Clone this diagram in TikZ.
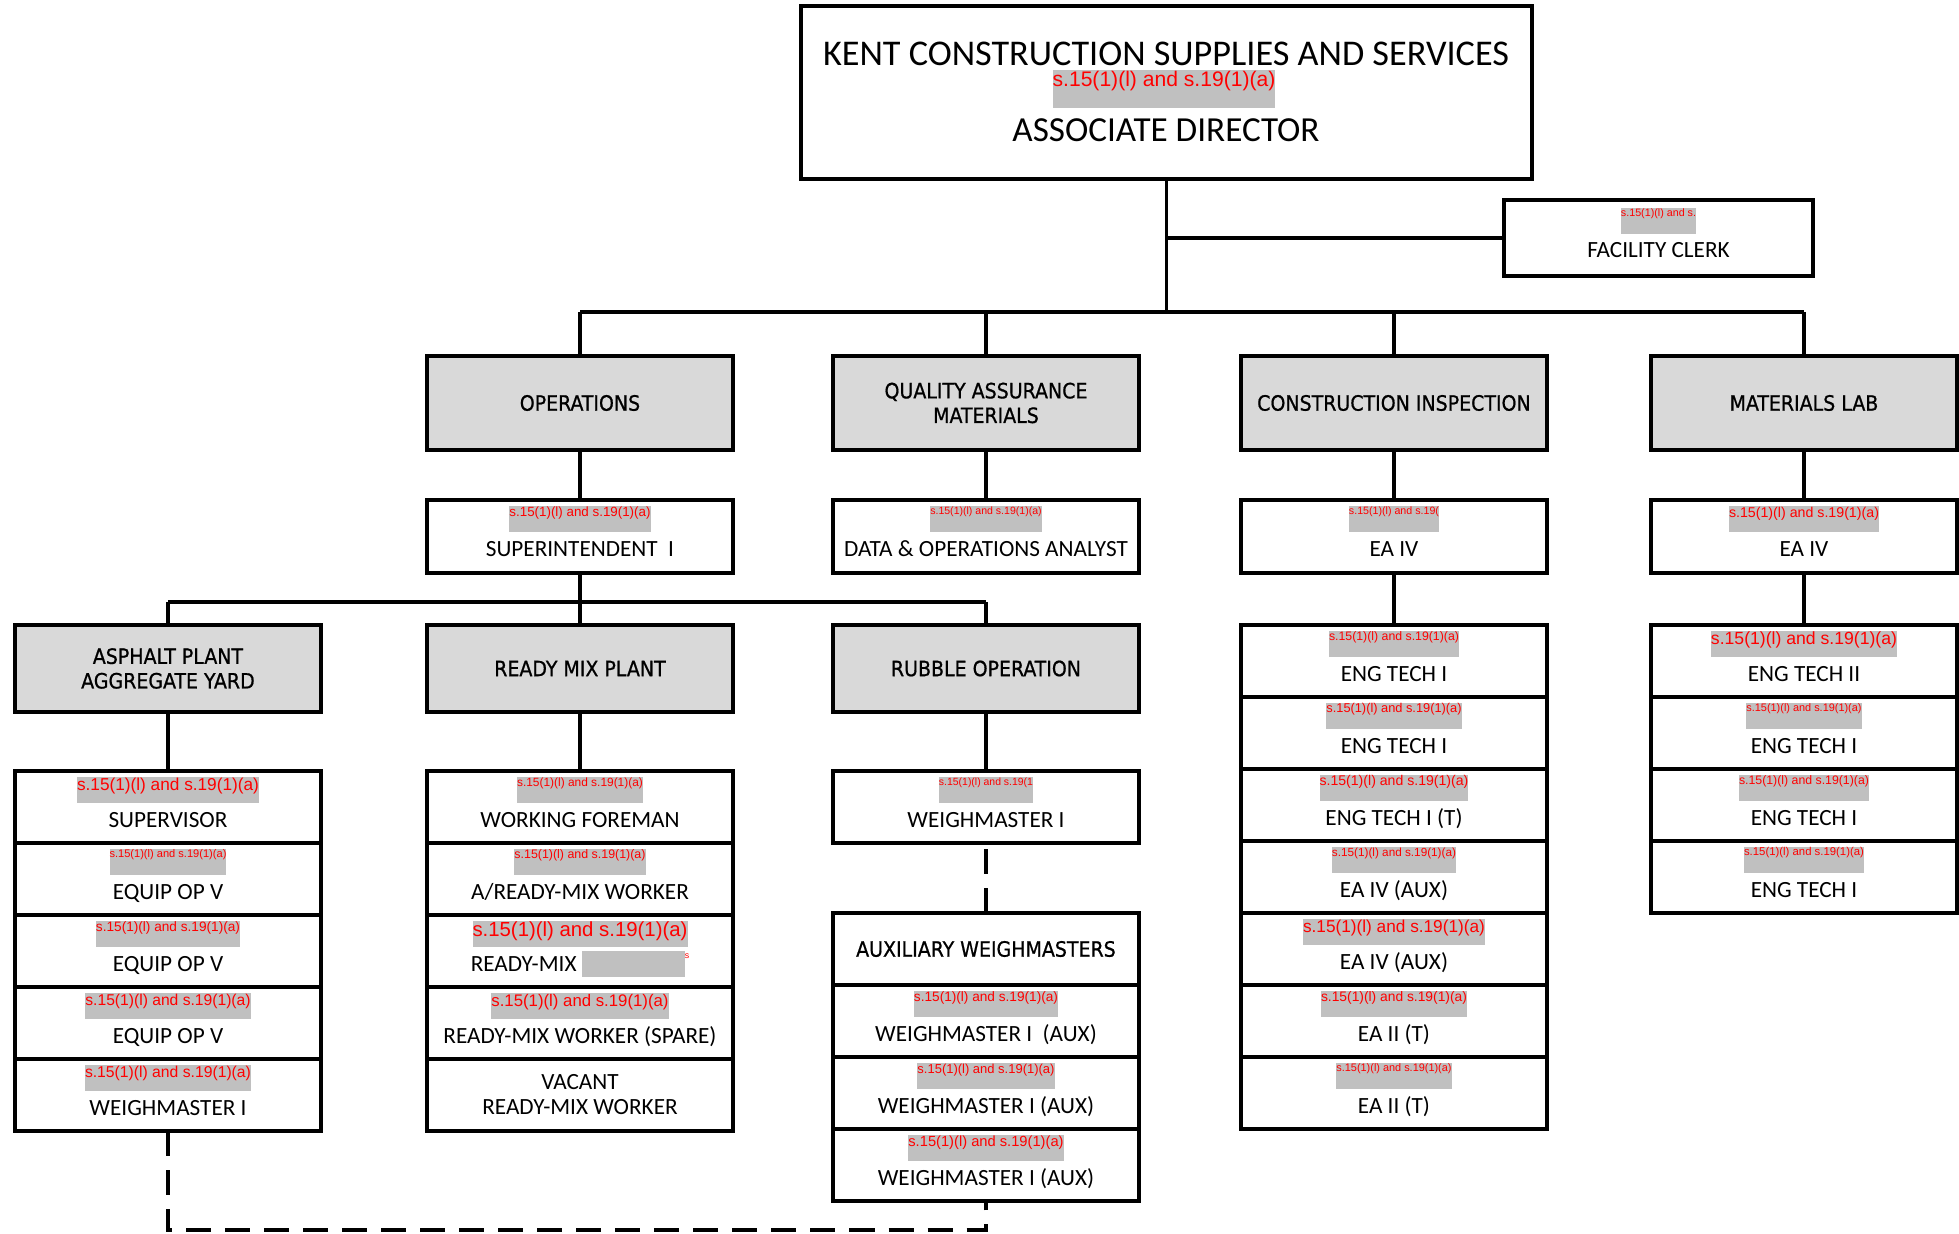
\documentclass[tikz,border=0pt]{standalone}
\usepackage{fontspec}
\setmainfont{Carlito}
\newfontfamily\hdfont[FakeBold=0.8]{DejaVu Sans Condensed}
\newfontfamily\rdfont{Liberation Sans}
\usetikzlibrary{positioning}
\definecolor{hdgrey}{HTML}{D9D9D9}
\definecolor{rdgrey}{HTML}{C0C0C0}
\newcommand{\rdtext}{s.15(1)(l) and s.19(1)(a)}
\newcommand{\redact}[3][0.26cm]{\rdfont\fontsize{#2}{#2}\selectfont\rule[\dimexpr0.8em-#1\relax]{0pt}{#1}#3}

\begin{document}
\begin{tikzpicture}[
		x=0.01cm, y=-0.01cm,
		box/.style={
			draw,
			line width=1pt,
			minimum width=3.06cm,
			inner sep=0pt,
			outer sep=0pt
		},
		dept/.style={
			box,
			fill=hdgrey,
			align=center,
			font=\hdfont\fontsize{6}{7}\selectfont
		},
		post/.style={
			box,
			minimum height=0.73cm
		},
		row/.style={
			box,
			anchor=north,
			minimum height=0.72cm
		},
		redbox/.style={
			fill=rdgrey,
			text=red,
			inner sep=0pt,
			anchor=north
		},
		title/.style={
			inner sep=0pt,
			text height=0.15cm,
			text depth=0pt,
			font=\fontsize{6.6}{7.1}\selectfont
		},
		link/.style={
			line width=0.9pt
		},
		dashlink/.style={
			link,
			dash pattern=on 0.25cm off 0.14cm
		}
		]
		\useasboundingbox (0,0) rectangle (1959,1234);

		\node[box, minimum width=7.31cm, minimum height=1.73cm] (dir) at (1166.5,92.5) {};
		\node[font=\fontsize{10.3}{12}\selectfont, inner sep=0pt] (dir-n) at (1166,54) {KENT CONSTRUCTION SUPPLIES AND SERVICES};
		\node[redbox] (dir-r) at (1164,69) {\redact[0.38cm]{6}{\rdtext}};
		\node[font=\fontsize{10}{12}\selectfont, inner sep=0pt] (dir-t) at (1166,130) {ASSOCIATE DIRECTOR};

		\node[box, minimum width=3.09cm, minimum height=0.76cm] (fac) at (1658.5,238) {};
		\node[redbox, below=0.07cm of fac.north] (fac-r) {\redact{3.05}{s.15(1)(l) and s.}};
		\node[title] (fac-t) at ([yshift=-0.12cm]fac.center) {FACILITY CLERK};

		\node[dept, minimum height=0.94cm] (ops) at (580,403) {OPERATIONS};
		\node[dept, minimum height=0.94cm] (qa) at (986,403) {QUALITY ASSURANCE\\MATERIALS};
		\node[dept, minimum height=0.94cm] (ci) at (1394,403) {CONSTRUCTION INSPECTION};
		\node[dept, minimum height=0.94cm] (lab) at (1804,403) {MATERIALS LAB};

		\foreach \nm/\cx/\sz/\red/\job in {sup/580/3.8/\rdtext/SUPERINTENDENT~~I, doa/986/3.0/\rdtext/DATA \& OPERATIONS ANALYST, eaci/1394/3.03/{s.15(1)(l) and s.19(}/EA IV, eaml/1804/4.04/\rdtext/EA IV}
		{
			\node[post] (\nm) at (\cx,536.5) {};
			\node[redbox, below=0.05cm of \nm.north] (\nm-r) {\redact{\sz}{\red}};
			\node[title] (\nm-t) at ([yshift=-0.12cm]\nm.center) {\job};
		}

		\node[dept, minimum height=0.87cm] (asp) at (168,668.5) {ASPHALT PLANT\\AGGREGATE YARD};
		\node[dept, minimum height=0.87cm] (rmp) at (580,668.5) {READY MIX PLANT};
		\node[dept, minimum height=0.87cm] (rub) at (986,668.5) {RUBBLE OPERATION};

		\foreach \sz/\job [count=\i] in {4.9/SUPERVISOR, 3.15/EQUIP OP V, 3.88/EQUIP OP V, 4.45/EQUIP OP V, 4.47/WEIGHMASTER I}
		{
			\node[row] (asp\i) at (168,{771+(\i-1)*72}) {};
			\node[redbox, below=0.05cm of asp\i.north] (asp\i-r) {\redact{\sz}{\rdtext}};
			\node[title] (asp\i-t) at ([yshift=-0.13cm]asp\i.center) {\job};
		}

		\foreach \sz/\job [count=\i] in {3.39/WORKING FOREMAN, 3.53/{A/READY-MIX WORKER}, 5.79/{READY-MIX\ \textcolor{rdgrey}{\rule[-0.05cm]{1.03cm}{0.26cm}}\raisebox{0.13cm}{\rdfont\fontsize{2.5}{3}\selectfont\textcolor{red}{s}}}, 4.77/READY-MIX WORKER (SPARE)}
		{
			\node[row] (rmp\i) at (580,{771+(\i-1)*72}) {};
			\node[redbox, below=0.05cm of rmp\i.north] (rmp\i-r) {\redact{\sz}{\rdtext}};
			\node[title] (rmp\i-t) at ([yshift=-0.13cm]rmp\i.center) {\job};
		}
		\node[row, align=center, font=\fontsize{6.6}{7.1}\selectfont] (rmp5) at (580,1059) {VACANT\\READY-MIX WORKER};

		\node[row] (wm) at (986,771) {};
		\node[redbox, below=0.05cm of wm.north] (wm-r) {\redact{2.97}{s.15(1)(l) and s.19(1}};
		\node[title] (wm-t) at ([yshift=-0.13cm]wm.center) {WEIGHMASTER I};

		\node[row, font=\hdfont\fontsize{6}{7}\selectfont] (aux1) at (986,913) {AUXILIARY WEIGHMASTERS};
		\foreach \sz/\job [count=\i from 2] in {3.88/WEIGHMASTER I~~(AUX), 3.69/WEIGHMASTER I (AUX), 4.18/WEIGHMASTER I (AUX)}
		{
			\node[row] (aux\i) at (986,{913+(\i-1)*72}) {};
			\node[redbox, below=0.05cm of aux\i.north] (aux\i-r) {\redact{\sz}{\rdtext}};
			\node[title] (aux\i-t) at ([yshift=-0.13cm]aux\i.center) {\job};
		}

		\foreach \sz/\job [count=\i] in {3.5/ENG TECH I, 3.64/ENG TECH I, 4.01/ENG TECH I (T), 3.34/EA IV (AUX), 4.9/EA IV (AUX), 3.93/EA II (T), 3.1/EA II (T)}
		{
			\node[row] (ci\i) at (1394,{625+(\i-1)*72}) {};
			\node[redbox, below=0.05cm of ci\i.north] (ci\i-r) {\redact{\sz}{\rdtext}};
			\node[title] (ci\i-t) at ([yshift=-0.13cm]ci\i.center) {\job};
		}

		\foreach \sz/\job [count=\i] in {5.01/ENG TECH II, 3.1/ENG TECH I, 3.5/ENG TECH I, 3.23/ENG TECH I}
		{
			\node[row] (ml\i) at (1804,{625+(\i-1)*72}) {};
			\node[redbox, below=0.05cm of ml\i.north] (ml\i-r) {\redact{\sz}{\rdtext}};
			\node[title] (ml\i-t) at ([yshift=-0.13cm]ml\i.center) {\job};
		}

		\coordinate (bus) at (1167,312);
		\coordinate (bus2) at (580,602);
		\coordinate (dashbot) at (168,1230);

		\draw[link] (dir.south) -- (dir.south |- bus);
		\draw[link] (dir.south |- fac.west) -- (fac.west);
		\draw[link] (ops.north |- bus) -- (lab.north |- bus);
		\foreach \d in {ops,qa,ci,lab}
			\draw[link] (\d.north) -- (\d.north |- bus);
		\foreach \a/\b in {ops/sup, qa/doa, ci/eaci, lab/eaml, asp/asp1, rmp/rmp1, rub/wm, eaci/ci1, eaml/ml1}
			\draw[link] (\a.south) -- (\b.north);
		\draw[link] (sup.south) -- (sup.south |- bus2);
		\draw[link] (asp.north |- bus2) -- (rub.north |- bus2);
		\foreach \d in {asp,rmp,rub}
			\draw[link] (\d.north) -- (\d.north |- bus2);
		\draw[dashlink] (aux1.north) -- (wm.south);
		\draw[dashlink] (asp5.south) -- (asp5.south |- dashbot) -| (aux4.south);
\end{tikzpicture}
\end{document}
